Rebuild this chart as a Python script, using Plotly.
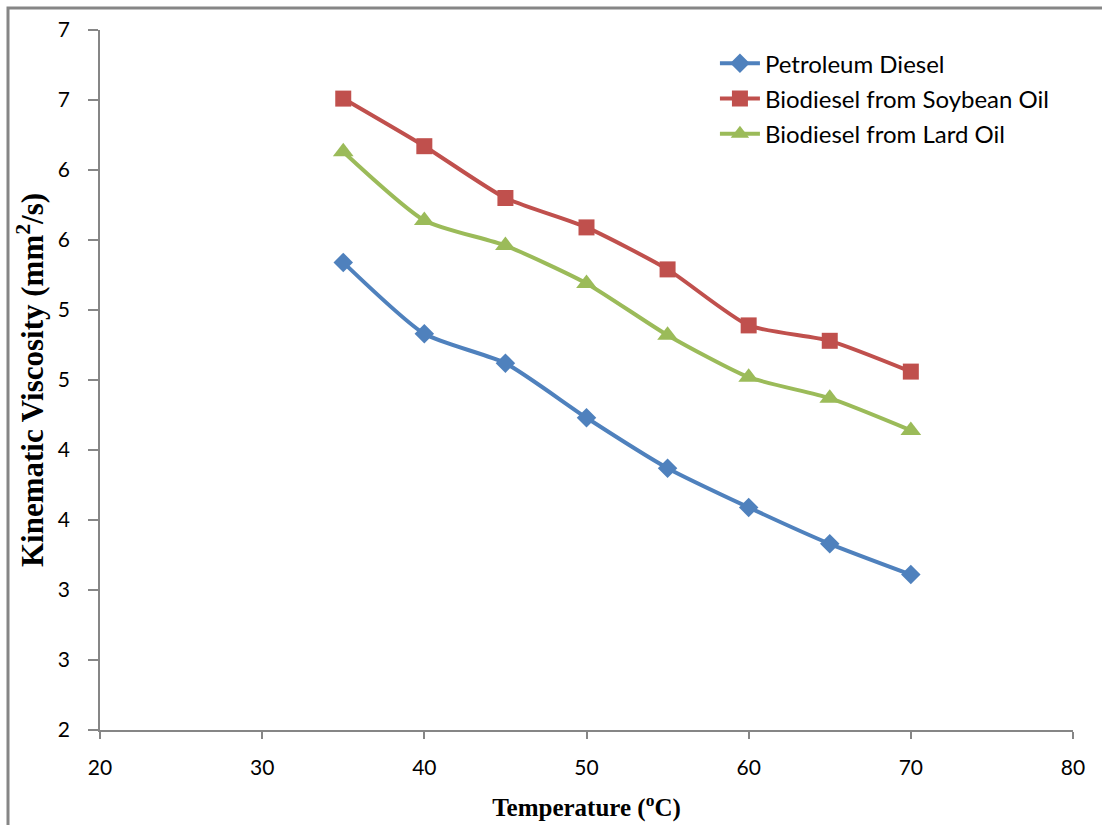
import plotly.graph_objects as go

temperature = [35, 40, 45, 50, 55, 60, 65, 70]
petroleum_diesel = [5.34, 4.83, 4.62, 4.23, 3.87, 3.59, 3.33, 3.11]
soybean_biodiesel = [6.51, 6.17, 5.80, 5.59, 5.29, 4.89, 4.78, 4.56]
lard_biodiesel = [6.13, 5.64, 5.46, 5.19, 4.82, 4.52, 4.37, 4.14]

y_tickvals = [2, 2.5, 3, 3.5, 4, 4.5, 5, 5.5, 6, 6.5, 7]
y_ticktext = ["2", "3", "3", "4", "4", "5", "5", "6", "6", "7", "7"]
x_tickvals = [20, 30, 40, 50, 60, 70, 80]

series = [
    ("Petroleum Diesel", petroleum_diesel, "#4F81BD", "diamond", 15),
    ("Biodiesel from Soybean Oil", soybean_biodiesel, "#C0504D", "square", 16),
    ("Biodiesel from Lard Oil", lard_biodiesel, "#9BBB59", "triangle-up", 18),
]

fig = go.Figure()
for i, (name, vals, color, sym, sz) in enumerate(series):
    fig.add_trace(go.Scatter(
        x=temperature, y=vals, name=name, mode="lines+markers",
        line=dict(color=color, width=4, shape="spline", smoothing=0.6),
        marker=dict(symbol=sym, size=sz, color=color),
        legendgroup=f"g{i}",
    ))

axis_color = "#868686"
fig.update_layout(
    width=1102, height=825,
    margin=dict(l=100, r=29, t=30, b=95),
    paper_bgcolor="white", plot_bgcolor="white",
    font=dict(family="Lato, Open Sans, sans-serif", color="black"),
    showlegend=True,
    legend=dict(x=0.632, y=0.984, xanchor="left", yanchor="top",
                font=dict(size=24, family="Lato, Open Sans, sans-serif"),
                traceorder="grouped", tracegroupgap=1,
                bgcolor="rgba(0,0,0,0)", itemwidth=40),
    xaxis=dict(range=[20, 80], tickvals=x_tickvals, showgrid=False, zeroline=False,
               showline=True, linecolor=axis_color, linewidth=1.5, automargin=False,
               ticks="outside", ticklen=7, tickcolor=axis_color, tickwidth=1.5,
               tickfont=dict(size=21), ticklabelstandoff=11,
               title=dict(text="Temperature (<sup>o</sup>C)",
                          font=dict(family="Liberation Serif, Times New Roman, serif", size=25, weight="bold"),
                          standoff=21)),
    yaxis=dict(range=[2, 7], tickvals=y_tickvals, ticktext=y_ticktext, showgrid=False, zeroline=False,
               showline=True, linecolor=axis_color, linewidth=1.5, automargin=False,
               ticks="outside", ticklen=10, tickcolor=axis_color, tickwidth=1.5,
               tickfont=dict(size=21), ticklabelstandoff=14,
               title=dict(text="Kinematic Viscosity (mm<sup>2</sup>/s)",
                          font=dict(family="Liberation Serif, Times New Roman, serif", size=31, weight="bold"),
                          standoff=5)),
    shapes=[dict(type="rect", xref="paper", yref="paper",
                 x0=(8 - 100) / 973, x1=(1120 - 100) / 973,
                 y0=(730 - 840) / 700, y1=(730 - 8) / 700,
                 line=dict(color=axis_color, width=3), fillcolor="rgba(0,0,0,0)", layer="below")],
)

fig.write_html("out.html")
